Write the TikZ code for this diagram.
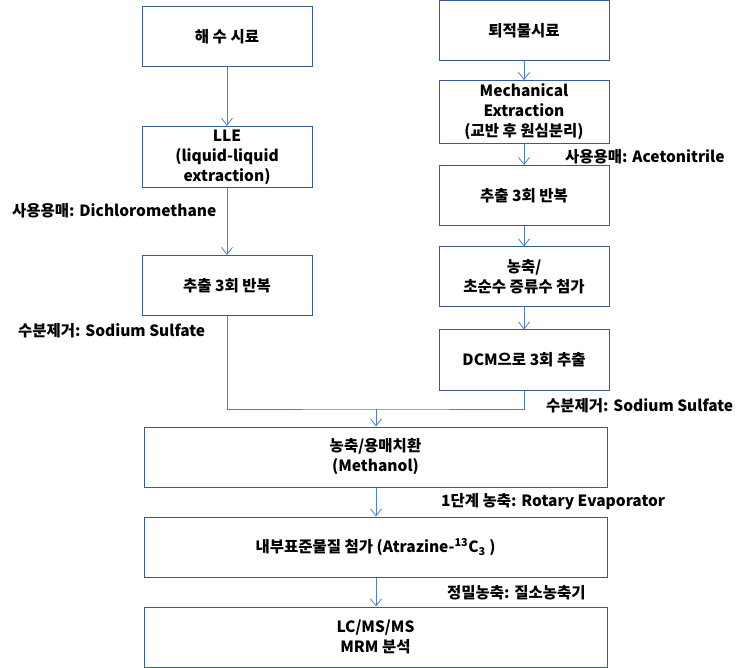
\documentclass[tikz,border=0pt]{standalone}
\usepackage{fontspec}
\setmainfont{Noto Sans CJK KR}
\usetikzlibrary{arrows.meta}
\definecolor{boxline}{RGB}{56,93,138}
\definecolor{arrowline}{RGB}{79,129,189}
\tikzset{
  stepbox/.style={draw=boxline,line width=1pt,minimum width=170pt,minimum height=60pt,align=center,font=\fontsize{15.5}{20}\selectfont\bfseries},
  widebox/.style={stepbox,minimum width=463pt},
  note/.style={anchor=west,inner sep=0pt,font=\fontsize{15.5}{20}\selectfont\bfseries},
  flow/.style={draw=arrowline,line width=0.8pt,-{Straight Barb[length=7pt,width=11pt]}}
}
\begin{document}
\begin{tikzpicture}[x=1pt,y=-1pt]
\useasboundingbox (0,0) rectangle (747,668);

\node[stepbox] (sea) at (227,37) {해 수 시료};
\node[stepbox] (lle) at (227,157) {LLE\\(liquid-liquid\\extraction)};
\node[stepbox] (ext) at (227,285.5) {추출 3회 반복};

\node[stepbox] (sed) at (524,31) {퇴적물시료};
\node[stepbox] (mech) at (524,112) {Mechanical\\Extraction\\(교반 후 원심분리)};
\node[stepbox] (sext) at (524,195.5) {추출 3회 반복};
\node[stepbox] (conc) at (524,277) {농축/\\초순수 증류수 첨가};
\node[stepbox] (dcm) at (524,360) {DCM으로 3회 추출};

\node[widebox] (meoh) at (375.5,457) {농축/용매치환\\(Methanol)};
\node[widebox] (istd) at (375.5,547) {내부표준물질 첨가 (Atrazine-\textsuperscript{13}C\textsubscript{3} )};
\node[widebox] (lcms) at (375.5,637) {LC/MS/MS\\MRM 분석};

\node[note] at (12,211) {사용용매: Dichloromethane};
\node[note] at (18,331) {수분제거: Sodium Sulfate};
\node[note] at (565,157) {사용용매: Acetonitrile};
\node[note] at (546,406) {수분제거: Sodium Sulfate};
\node[note] at (441,502) {1단계 농축: Rotary Evaporator};
\node[note] at (447,593) {정밀농축: 질소농축기};

\draw[flow] (sea) -- (lle);
\draw[flow] (lle) -- (ext);
\draw[flow] (sed) -- (mech);
\draw[flow] (mech) -- (sext);
\draw[flow] (sext) -- (conc);
\draw[flow] (conc) -- (dcm);

\coordinate (join) at (376,409);
\draw[draw=arrowline,line width=0.8pt] (ext.south) |- (join) -| (dcm.south);
\draw[flow] (join) -- (join |- meoh.north);
\draw[flow] (meoh.south -| join) -- (istd.north -| join);
\draw[flow] (istd.south -| join) -- (lcms.north -| join);
\end{tikzpicture}
\end{document}
